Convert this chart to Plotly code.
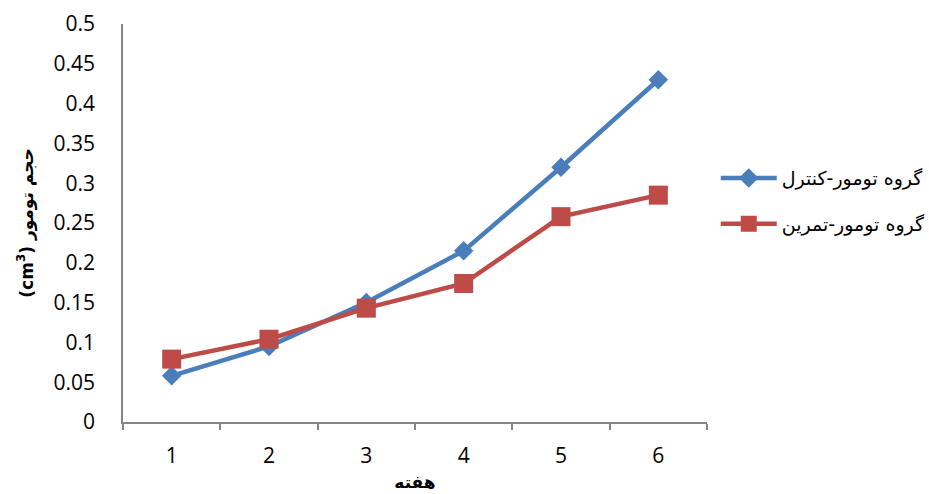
import plotly.graph_objects as go

weeks = ["1", "2", "3", "4", "5", "6"]
control_volume = [0.058, 0.095, 0.150, 0.215, 0.320, 0.430]
exercise_volume = [0.079, 0.104, 0.143, 0.174, 0.258, 0.285]

control_name = "گروه تومور-کنترل"
exercise_name = "گروه تومور-تمرین"

BLUE = "#4A7EBB"
RED = "#BE4B48"
AXIS = "#868686"
FONT = "Open Sans, DejaVu Sans, sans-serif"
ARABIC_FONT = "DejaVu Sans, sans-serif"

fig = go.Figure()
fig.add_trace(go.Scatter(
    x=weeks, y=control_volume, name=control_name, mode="lines+markers",
    legendgroup="control",
    line=dict(color=BLUE, width=4.5),
    marker=dict(symbol="diamond", size=15, color=BLUE),
))
fig.add_trace(go.Scatter(
    x=weeks, y=exercise_volume, name=exercise_name, mode="lines+markers",
    legendgroup="exercise",
    line=dict(color=RED, width=4.5),
    marker=dict(symbol="square", size=19, color=RED),
))

fig.update_layout(
    width=929, height=494,
    margin=dict(l=123, r=222, t=24, b=72, autoexpand=False),
    paper_bgcolor="white", plot_bgcolor="white",
    font=dict(family=FONT, size=21, color="#000000"),
    showlegend=True,
    legend=dict(
        x=1.015, y=0.555, xanchor="left", yanchor="middle",
        font=dict(family=ARABIC_FONT, size=19),
        itemwidth=56, tracegroupgap=18,
        bgcolor="rgba(0,0,0,0)",
    ),
    xaxis=dict(
        type="category", range=[-0.5, 5.5], automargin=False,
        tickson="boundaries", ticks="outside", ticklen=6,
        tickcolor=AXIS, tickwidth=1.5,
        showline=True, linecolor=AXIS, linewidth=1.5,
        showgrid=False, zeroline=False,
        ticklabelstandoff=14,
        title=dict(text="<b>هفته</b>", font=dict(family=ARABIC_FONT, size=17), standoff=8),
    ),
    yaxis=dict(
        range=[0, 0.5], dtick=0.05, tick0=0, automargin=False,
        showline=True, linecolor=AXIS, linewidth=1.5,
        ticks="", showgrid=False, zeroline=False,
        ticklabelstandoff=22,
        title=dict(text="<b>(cm<sup>3</sup>) حجم تومور</b>",
                   font=dict(family=ARABIC_FONT, size=17), standoff=16),
    ),
)

fig.write_html("out.html")
